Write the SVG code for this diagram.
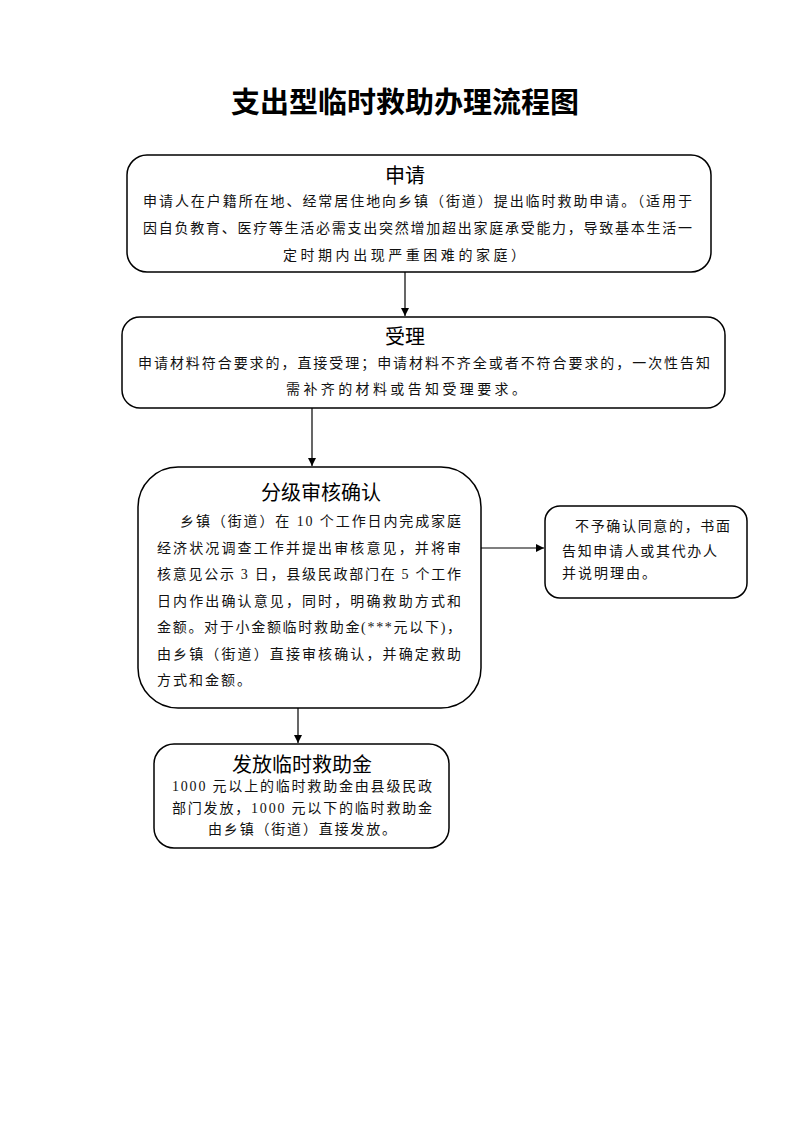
<svg xmlns="http://www.w3.org/2000/svg" width="793" height="1122" viewBox="0 0 793 1122">
<style>
.box{fill:#fff;stroke:#000;stroke-width:1.5}
.t{font-family:"Liberation Serif","Noto Sans CJK SC",serif;font-size:14px;fill:#111}
.h{font-family:"Liberation Sans","Noto Sans CJK SC",sans-serif;font-size:20px;fill:#000;text-anchor:middle}
.title{font-family:"Liberation Serif","Noto Sans CJK SC",serif;font-size:29px;font-weight:bold;fill:#000;text-anchor:middle}
.ln{stroke:#000;stroke-width:1.2;fill:none}
</style>
<defs>
<marker id="arr" markerWidth="10" markerHeight="10" refX="8" refY="4" orient="auto" markerUnits="userSpaceOnUse">
<path d="M0,0 L8,4 L0,8 Z" fill="#000"/>
</marker>
</defs>
<rect width="793" height="1122" fill="#fff"/>
<text class="title" x="405" y="113">支出型临时救助办理流程图</text>

<g id="n1">
<rect class="box" x="127" y="155" width="584" height="117" rx="20"/>
<text class="h" x="405" y="183">申请</text>
<text class="t" x="143" y="206" textLength="549" lengthAdjust="spacing">申请人在户籍所在地、经常居住地向乡镇（街道）提出临时救助申请。（适用于</text>
<text class="t" x="143" y="233" textLength="549" lengthAdjust="spacing">因自负教育、医疗等生活必需支出突然增加超出家庭承受能力，导致基本生活一</text>
<text class="t" x="283" y="260" textLength="242" lengthAdjust="spacing">定时期内出现严重困难的家庭）</text>
</g>

<g id="n2">
<rect class="box" x="122" y="317" width="603" height="91" rx="18"/>
<text class="h" x="405" y="344">受理</text>
<text class="t" x="138" y="368" textLength="572" lengthAdjust="spacing">申请材料符合要求的，直接受理；申请材料不齐全或者不符合要求的，一次性告知</text>
<text class="t" x="286" y="394" textLength="240" lengthAdjust="spacing">需补齐的材料或告知受理要求。</text>
</g>

<g id="n3">
<rect class="box" x="138" y="467" width="343" height="241" rx="40"/>
<text class="h" x="321" y="500">分级审核确认</text>
<text class="t" x="180" y="526" textLength="281" lengthAdjust="spacing">乡镇（街道）在 10 个工作日内完成家庭</text>
<text class="t" x="157" y="553" textLength="304" lengthAdjust="spacing">经济状况调查工作并提出审核意见，并将审</text>
<text class="t" x="157" y="579" textLength="304" lengthAdjust="spacing">核意见公示 3 日，县级民政部门在 5 个工作</text>
<text class="t" x="157" y="606" textLength="304" lengthAdjust="spacing">日内作出确认意见，同时，明确救助方式和</text>
<text class="t" x="157" y="632" textLength="304" lengthAdjust="spacing">金额。对于小金额临时救助金(***元以下)，</text>
<text class="t" x="157" y="659" textLength="304" lengthAdjust="spacing">由乡镇（街道）直接审核确认，并确定救助</text>
<text class="t" x="157" y="685" textLength="94" lengthAdjust="spacing">方式和金额。</text>
</g>

<g id="n4">
<rect class="box" x="545" y="506" width="202" height="92" rx="15"/>
<text class="t" x="575" y="531" textLength="155" lengthAdjust="spacing">不予确认同意的，书面</text>
<text class="t" x="562" y="556" textLength="155" lengthAdjust="spacing">告知申请人或其代办人</text>
<text class="t" x="562" y="578" textLength="94" lengthAdjust="spacing">并说明理由。</text>
</g>

<g id="n5">
<rect class="box" x="154" y="744" width="295" height="104" rx="20"/>
<text class="h" x="302" y="772">发放临时救助金</text>
<text class="t" x="172" y="791" textLength="260" lengthAdjust="spacing">1000 元以上的临时救助金由县级民政</text>
<text class="t" x="172" y="813" textLength="260" lengthAdjust="spacing">部门发放，1000 元以下的临时救助金</text>
<text class="t" x="208" y="834" textLength="188" lengthAdjust="spacing">由乡镇（街道）直接发放。</text>
</g>

<g id="connectors">
<line class="ln" x1="405" y1="272" x2="405" y2="316" marker-end="url(#arr)"/>
<line class="ln" x1="312" y1="408" x2="312" y2="466" marker-end="url(#arr)"/>
<line class="ln" x1="481" y1="548" x2="544" y2="548" marker-end="url(#arr)"/>
<line class="ln" x1="298" y1="708" x2="298" y2="743" marker-end="url(#arr)"/>
</g>
</svg>
